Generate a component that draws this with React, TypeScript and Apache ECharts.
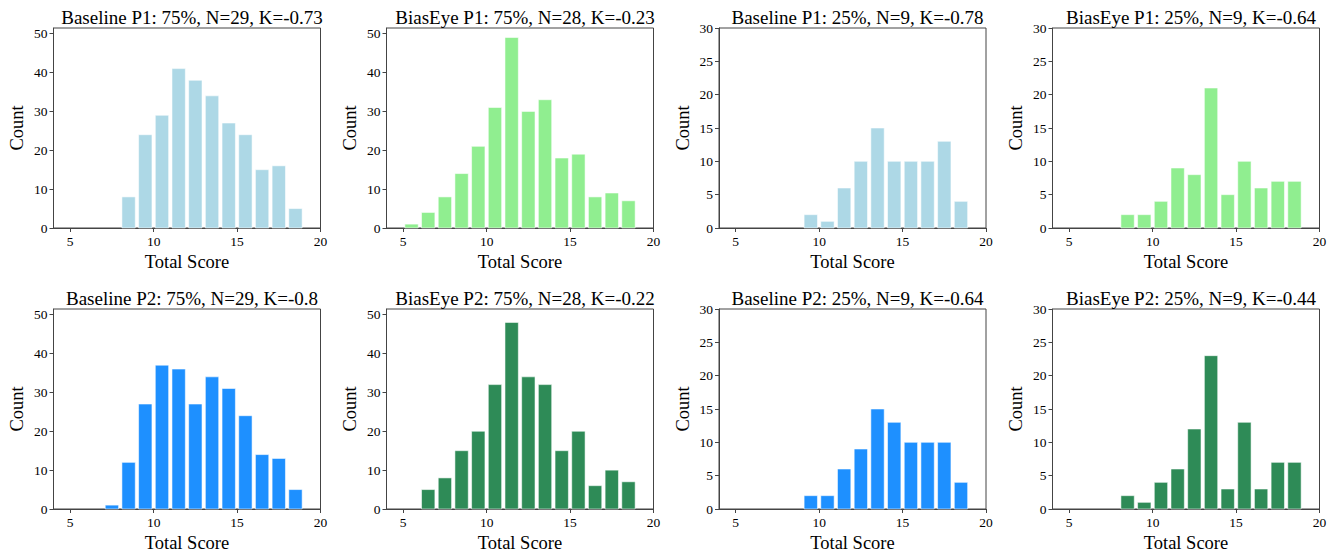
import React, { useEffect, useRef } from "react";
import * as echarts from "echarts";

// Histogram bin starts (bin width 1): bins [5,6), [6,7), ..., [18,19]
const binStarts = [5, 6, 7, 8, 9, 10, 11, 12, 13, 14, 15, 16, 17, 18];

const baselineP1_75 = [0, 0, 0, 8, 24, 29, 41, 38, 34, 27, 24, 15, 16, 5];
const biasEyeP1_75 = [1, 4, 8, 14, 21, 31, 49, 30, 33, 18, 19, 8, 9, 7];
const baselineP1_25 = [0, 0, 0, 0, 2, 1, 6, 10, 15, 10, 10, 10, 13, 4];
const biasEyeP1_25 = [0, 0, 0, 2, 2, 4, 9, 8, 21, 5, 10, 6, 7, 7];
const baselineP2_75 = [0, 0, 1, 12, 27, 37, 36, 27, 34, 31, 24, 14, 13, 5];
const biasEyeP2_75 = [0, 5, 8, 15, 20, 32, 48, 34, 32, 15, 20, 6, 10, 7];
const baselineP2_25 = [0, 0, 0, 0, 2, 2, 6, 9, 15, 13, 10, 10, 10, 4];
const biasEyeP2_25 = [0, 0, 0, 2, 1, 4, 6, 12, 23, 3, 13, 3, 7, 7];

const titles = [
  "Baseline P1: 75%, N=29, K=-0.73",
  "BiasEye P1: 75%, N=28, K=-0.23",
  "Baseline P1: 25%, N=9, K=-0.78",
  "BiasEye P1: 25%, N=9, K=-0.64",
  "Baseline P2: 75%, N=29, K=-0.8",
  "BiasEye P2: 75%, N=28, K=-0.22",
  "Baseline P2: 25%, N=9, K=-0.64",
  "BiasEye P2: 25%, N=9, K=-0.44",
];
const panelCounts = [
  baselineP1_75, biasEyeP1_75, baselineP1_25, biasEyeP1_25,
  baselineP2_75, biasEyeP2_75, baselineP2_25, biasEyeP2_25,
];
const panelColors = [
  "#ADD8E6", "#90EE90", "#ADD8E6", "#90EE90",
  "#1E90FF", "#2E8B57", "#1E90FF", "#2E8B57",
];
const xTicks = [5, 10, 15, 20];
const yTicks75 = [0, 10, 20, 30, 40, 50];
const yTicks25 = [0, 5, 10, 15, 20, 25, 30];
const yMax75 = 51.45;
const yMax25 = 30;

const FONT = "'Liberation Serif', 'Times New Roman', serif";

export default function App() {
  const ref = useRef<HTMLDivElement>(null);
  useEffect(() => {
    if (!ref.current) return;
    const chart = echarts.init(ref.current, null, { renderer: "svg" });
    const lefts = [53.5, 386.5, 719, 1052.5];
    const tops = [28, 309];
    const W = 267;
    const H = 200;
    const axisColor = "#444";

    const grids: any[] = [];
    const xAxes: any[] = [];
    const yAxes: any[] = [];
    const series: any[] = [];
    const titleOpts: any[] = [];

    panelCounts.forEach((counts, i) => {
      const row = Math.floor(i / 4);
      const col = i % 4;
      const is75 = col < 2;
      grids.push({
        left: lefts[col],
        top: tops[row],
        width: W,
        height: H,
        show: true,
        borderColor: axisColor,
        borderWidth: 1,
        backgroundColor: "transparent",
      });
      titleOpts.push({
        text: titles[i],
        left: lefts[col] + W / 2,
        top: tops[row] - 25,
        textAlign: "center",
        textStyle: { fontFamily: FONT, fontSize: 19, fontWeight: 400, color: "#000" },
      });
      xAxes.push({
        type: "value",
        gridIndex: i,
        min: 4,
        max: 20,
        name: "Total Score",
        nameLocation: "middle",
        nameGap: 24,
        nameTextStyle: { fontFamily: FONT, fontSize: 18.5, color: "#000" },
        axisLine: { show: true, lineStyle: { color: axisColor, width: 1 } },
        axisTick: { show: true, length: 4, lineStyle: { color: axisColor }, customValues: xTicks },
        axisLabel: {
          fontFamily: FONT, fontSize: 13.5, color: "#000", margin: 6,
          customValues: xTicks,
        },
        splitLine: { show: false },
      });
      const yTicks = is75 ? yTicks75 : yTicks25;
      yAxes.push({
        type: "value",
        gridIndex: i,
        min: 0,
        max: is75 ? yMax75 : yMax25,
        name: "Count",
        nameLocation: "middle",
        nameRotate: 90,
        nameGap: 27,
        nameTextStyle: { fontFamily: FONT, fontSize: 18.5, color: "#000" },
        axisLine: { show: true, lineStyle: { color: axisColor, width: 1 } },
        axisTick: { show: true, length: 4, lineStyle: { color: axisColor }, customValues: yTicks },
        axisLabel: {
          fontFamily: FONT, fontSize: 13.5, color: "#000", margin: 6,
          customValues: yTicks,
        },
        splitLine: { show: false },
      });
      series.push({
        type: "custom",
        xAxisIndex: i,
        yAxisIndex: i,
        data: binStarts.map((b, k) => [b, counts[k]]),
        renderItem: (params: any, api: any) => {
          const start = api.value(0);
          const count = api.value(1);
          if (!count) return null;
          const p0 = api.coord([start + 0.1, count]);
          const p1 = api.coord([start + 0.9, 0]);
          return {
            type: "rect",
            shape: { x: p0[0], y: p0[1], width: p1[0] - p0[0], height: p1[1] - p0[1] },
            style: { fill: panelColors[i], stroke: "rgba(255,255,255,0.55)", lineWidth: 1 },
          };
        },
      });
    });

    chart.setOption({
      animation: false,
      backgroundColor: "#fff",
      title: titleOpts,
      grid: grids,
      xAxis: xAxes,
      yAxis: yAxes,
      series,
    });
    return () => chart.dispose();
  }, []);
  return (
    <div
      ref={ref}
      style={{ position: "fixed", left: 0, top: 0, width: 1335, height: 556 }}
    />
  );
}
